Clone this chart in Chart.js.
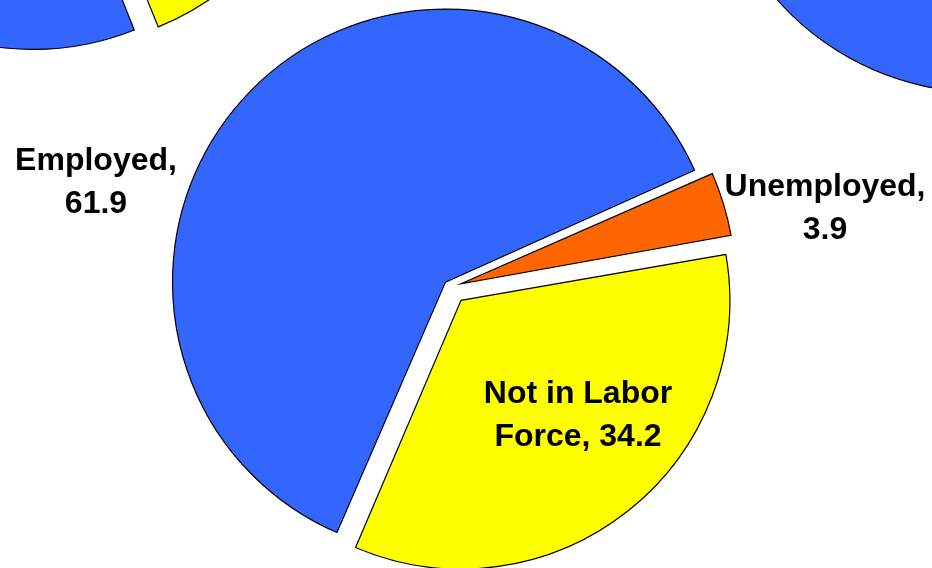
<!DOCTYPE html>
<html lang="en">
<head>
    <meta charset="UTF-8">
    <title>Labor Force Status</title>
    <script src="https://cdn.jsdelivr.net/npm/chart.js"></script>
    <style>
        html, body { margin: 0; padding: 0; background: #fff; overflow: hidden; }
        #stage { position: relative; width: 932px; height: 568px; overflow: hidden; }
        #stage canvas { position: absolute; }
    </style>
</head>
<body>
    <div id="stage">
        <canvas id="leftPie" width="600" height="600" style="left:-260px; top:-524px;"></canvas>
        <canvas id="rightPie" width="600" height="600" style="left:689px; top:-479px;"></canvas>
        <canvas id="mainPie" width="932" height="568" style="left:0; top:0;"></canvas>
    </div>

    <script>
        // Shares of the population by labor force status (percent)
        const categories = ['Employed', 'Unemployed', 'Not in Labor Force'];
        const mainShares = [61.9, 3.9, 34.2];
        const leftShares = [60.4, 4.6, 35.0];
        const rightShares = [63.1, 5.0, 31.9];

        // Split a label into lines no wider than maxWidth
        function wrapText(ctx, text, maxWidth) {
            const words = text.split(' ');
            const lines = [];
            let line = '';
            words.forEach(w => {
                const test = line ? line + ' ' + w : w;
                if (line && ctx.measureText(test).width > maxWidth) {
                    lines.push(line);
                    line = w;
                } else {
                    line = test;
                }
            });
            if (line) lines.push(line);
            return lines;
        }

        // Draws "Category, value" next to each slice
        const sliceLabels = {
            id: 'sliceLabels',
            afterDatasetsDraw(chart, args, opts) {
                if (!opts.anchors) return;
                const ctx = chart.ctx;
                const meta = chart.getDatasetMeta(0);
                const values = chart.data.datasets[0].data;
                ctx.save();
                ctx.font = opts.font;
                ctx.fillStyle = '#000';
                ctx.textAlign = 'center';
                ctx.textBaseline = 'alphabetic';
                meta.data.forEach((arc, i) => {
                    const text = chart.data.labels[i] + ', ' + values[i].toFixed(1);
                    const lines = wrapText(ctx, text, opts.maxWidth);
                    const x = arc.x + opts.anchors[i][0];
                    const y = arc.y + opts.anchors[i][1];
                    const first = y - (lines.length - 1) * opts.lineHeight / 2 + opts.capHeight / 2;
                    lines.forEach((line, j) => ctx.fillText(line, x, first + j * opts.lineHeight));
                });
                ctx.restore();
            }
        };

        function pieConfig(values, rotation, padding, labelOpts) {
            return {
                type: 'pie',
                data: {
                    labels: categories,
                    datasets: [{
                        data: values,
                        backgroundColor: ['#3366FF', '#FF6600', '#FFFF00'],
                        borderColor: '#000000',
                        borderWidth: 1.2,
                        borderJoinStyle: 'miter',
                        offset: [28, 44, 68],
                        radius: 266
                    }]
                },
                options: {
                    responsive: false,
                    animation: false,
                    events: [],
                    rotation: rotation,
                    layout: { padding: padding },
                    plugins: {
                        legend: { display: false },
                        tooltip: { enabled: false },
                        sliceLabels: labelOpts
                    }
                },
                plugins: [sliceLabels]
            };
        }

        new Chart(document.getElementById('leftPie'), pieConfig(leftShares, 158, 0, {}));
        new Chart(document.getElementById('rightPie'), pieConfig(rightShares, 170, 0, {}));

        new Chart(document.getElementById('mainPie'), pieConfig(mainShares, 203.2,
            { top: 6, right: 31 },
            {
                font: 'bold 32px "Liberation Sans", Arial, sans-serif',
                maxWidth: 210,
                lineHeight: 43,
                capHeight: 23,
                anchors: [[-354.5, -107], [374.5, -81.5], [127.5, 126]]
            }));
    </script>
</body>
</html>
